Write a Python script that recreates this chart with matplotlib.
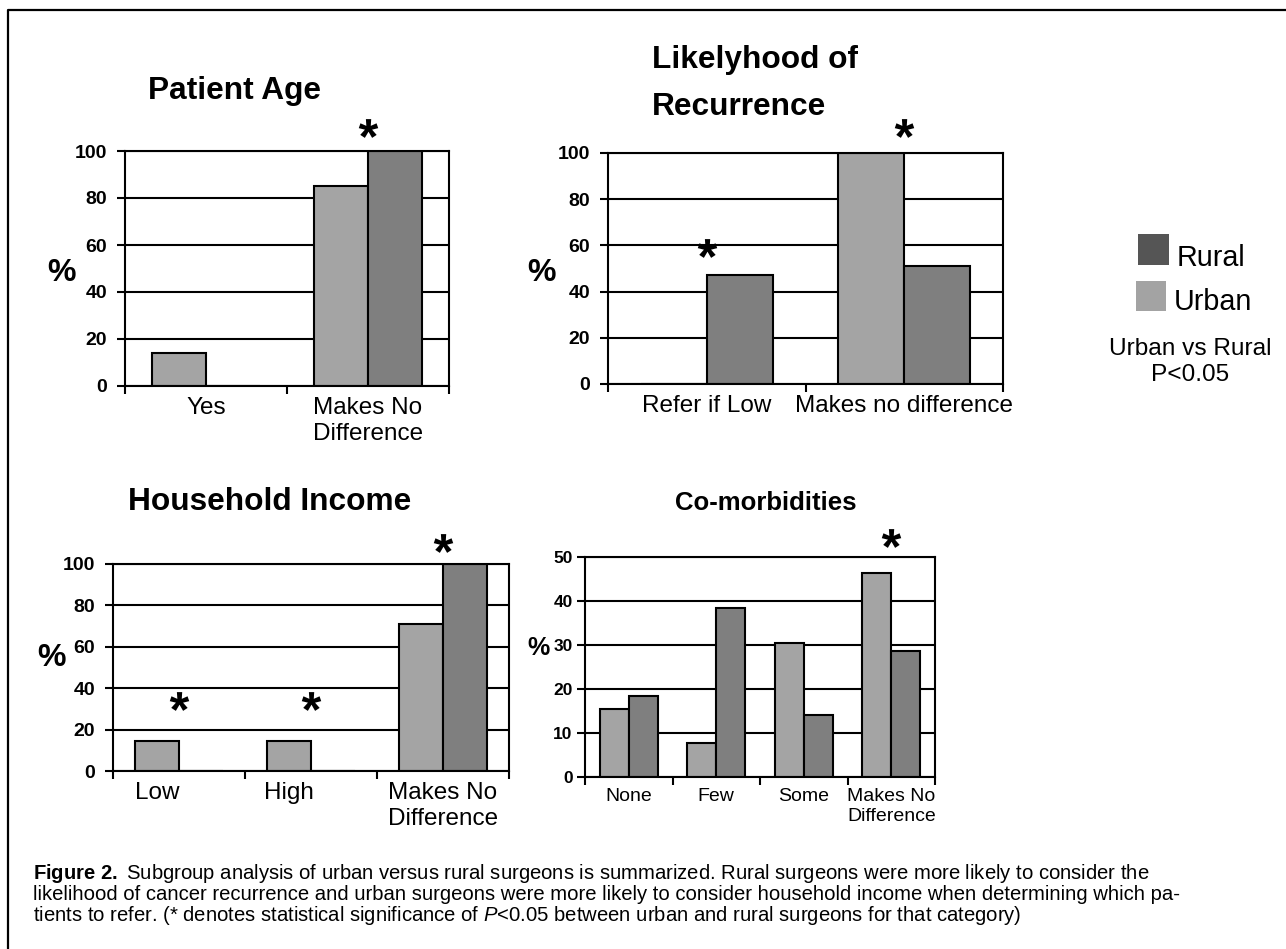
import numpy as np
import matplotlib
matplotlib.use("Agg")
import matplotlib.pyplot as plt
from matplotlib.lines import Line2D
from matplotlib.patches import Rectangle
from matplotlib.path import Path
from matplotlib.textpath import TextPath
from matplotlib.font_manager import FontProperties

plt.rcParams['font.family'] = ['Liberation Sans', 'DejaVu Sans']
plt.rcParams['mathtext.fontset'] = 'custom'
plt.rcParams['mathtext.rm'] = 'Liberation Sans'
plt.rcParams['mathtext.it'] = 'Liberation Sans:italic'
plt.rcParams['mathtext.bf'] = 'Liberation Sans:bold'

# ---------------------------------------------------------------- data
age_labels = ["Yes", "Makes No\nDifference"]
age_urban = [14, 85]
age_rural = [0, 100]
age_star_x = [1]
age_star_y = [110]

recur_labels = ["Refer if Low", "Makes no difference"]
recur_urban = [0, 100]
recur_rural = [47, 51]
recur_star_x = [0, 1]
recur_star_y = [59, 111]

income_labels = ["Low", "High", "Makes No\nDifference"]
income_urban = [14.5, 14.5, 71]
income_rural = [0, 0, 100]
income_star_x = [0, 1, 2]
income_star_y = [34, 34, 110]

comorb_labels = ["None", "Few", "Some", "Makes No\nDifference"]
comorb_urban = [15.4, 7.8, 30.5, 46.3]
comorb_rural = [18.5, 38.5, 14.2, 28.6]
comorb_star_x = [3]
comorb_star_y = [54.3]

series_names = ["Rural", "Urban"]

# ---------------------------------------------------------------- style
URBAN = "#a4a4a4"
RURAL = "#7f7f7f"
RURAL_KEY = "#555555"
URBAN_KEY = "#a3a3a3"
LW = 1.5

W, H = 1286, 949
fig = plt.figure(figsize=(W / 100, H / 100), dpi=100)


def fx(x):
    return x / W


def fy(y):
    return 1 - y / H


def asterisk_path():
    tp = TextPath((0, 0), "*", size=10,
                  prop=FontProperties(family="Liberation Sans", weight="bold"))
    verts = tp.vertices.copy()
    codes = tp.codes
    real = codes != Path.CLOSEPOLY
    lo = verts[real].min(axis=0)
    hi = verts[real].max(axis=0)
    verts = verts - (lo + hi) / 2
    verts[~real] = 0
    return Path(verts, codes)


STAR = asterisk_path()


def panel(box, labels, urban, rural, ymax, ystep, star_x, star_y,
          label_shift=None, xsize=17.5, ysize=14, ypad=7):
    left, top, right, bottom = box
    ax = fig.add_axes([fx(left), fy(bottom), fx(right - left), (bottom - top) / H])
    n = len(labels)
    pos = np.arange(n)
    w = 1 / 3
    ax.bar(pos - w / 2, urban, w, color=URBAN, edgecolor="black",
           linewidth=LW, zorder=3)
    ax.bar(pos + w / 2, rural, w, color=RURAL, edgecolor="black",
           linewidth=LW, zorder=3)
    ax.set_xlim(-0.5, n - 0.5)
    ax.set_ylim(0, ymax)
    ax.set_yticks(np.arange(0, ymax + ystep / 2, ystep))
    ax.yaxis.grid(True, color="black", linewidth=LW)
    ax.set_axisbelow(True)
    for sp in ax.spines.values():
        sp.set_linewidth(LW)
        sp.set_color("black")
        sp.set_zorder(4)

    shift = np.zeros(n) if label_shift is None else np.asarray(label_shift)
    ax.set_xticks(pos + shift)
    ax.set_xticks(np.arange(-0.5, n, 1.0), minor=True)
    ax.tick_params(axis="x", which="major", length=0, pad=8)
    ax.tick_params(axis="x", which="minor", length=6, width=LW,
                   direction="out")
    ax.tick_params(axis="y", length=6, width=LW, direction="out", pad=ypad)

    ax.set_xticklabels(labels, fontsize=xsize, linespacing=1.2)
    ax.set_yticklabels([f"{v:g}" for v in ax.get_yticks()],
                       fontsize=ysize, fontweight="bold")

    ax.plot(star_x, star_y, linestyle="none", marker=STAR, markersize=14,
            color="black", markeredgewidth=0, clip_on=False, zorder=5)
    return ax


panel((125, 151, 449, 386), age_labels, age_urban, age_rural, 100, 20,
      age_star_x, age_star_y)
panel((608, 153, 1003, 384), recur_labels, recur_urban, recur_rural, 100, 20,
      recur_star_x, recur_star_y)
panel((113, 564, 509, 771), income_labels, income_urban, income_rural, 100, 20,
      income_star_x, income_star_y, label_shift=[-1 / 6, -1 / 6, 0])
panel((585, 557, 935, 777), comorb_labels, comorb_urban, comorb_rural, 50, 10,
      comorb_star_x, comorb_star_y, xsize=14, ysize=12.5, ypad=3)

# ---------------------------------------------------------------- titles
TITLE = dict(fontsize=22.8, fontweight="bold", va="baseline")
fig.text(fx(235), fy(99), "Patient Age", ha="center", **TITLE)
fig.text(fx(652), fy(68), "Likelyhood of", ha="left", **TITLE)
fig.text(fx(652), fy(115), "Recurrence", ha="left", **TITLE)
fig.text(fx(270), fy(510), "Household Income", ha="center", **TITLE)
fig.text(fx(766), fy(510), "Co-morbidities", ha="center", fontsize=18.5,
         fontweight="bold", va="baseline")

PCT = dict(fontweight="bold", ha="center", va="center")
fig.text(fx(62), fy(273), "%", fontsize=23, **PCT)
fig.text(fx(542), fy(273), "%", fontsize=23, **PCT)
fig.text(fx(52), fy(658), "%", fontsize=23, **PCT)
fig.text(fx(539), fy(648), "%", fontsize=18, **PCT)

# ---------------------------------------------------------------- key
key_colors = [RURAL_KEY, URBAN_KEY]
key_boxes = [(1138, 234, 31), (1136, 281, 30)]
key_base = [266, 310]
for name, col, (kx, ky, ks), kb in zip(series_names, key_colors, key_boxes, key_base):
    fig.add_artist(Rectangle((fx(kx), fy(ky + ks)), ks / W, ks / H,
                             transform=fig.transFigure, facecolor=col,
                             edgecolor="none"))
    fig.text(fx(kx + ks + 8), fy(kb), name, fontsize=20.7, va="baseline",
             ha="left")
fig.text(fx(1190), fy(355), "Urban vs Rural", fontsize=17.6, ha="center",
         va="baseline")
fig.text(fx(1190), fy(381), "P<0.05", fontsize=17.6, ha="center",
         va="baseline")

# ---------------------------------------------------------------- caption
caption_lines = [
    r"$\mathbf{Figure\ 2.}$ Subgroup analysis of urban versus rural surgeons "
    r"is summarized. Rural surgeons were more likely to consider the",
    "likelihood of cancer recurrence and urban surgeons were more likely to "
    "consider household income when determining which pa-",
    r"tients to refer. (* denotes statistical significance of $P$<0.05 "
    r"between urban and rural surgeons for that category)",
]
caption_base = [879, 900, 921]
for line, yb in zip(caption_lines, caption_base):
    fig.text(fx(33), fy(yb), line, fontsize=14.6, ha="left", va="baseline")

# ---------------------------------------------------------------- frame
fig.add_artist(Line2D([fx(8), fx(8), 1.01], [-0.01, fy(10), fy(10)],
                      transform=fig.transFigure, color="black", linewidth=1.6))

fig.savefig("out.png", dpi=100, facecolor="white")
